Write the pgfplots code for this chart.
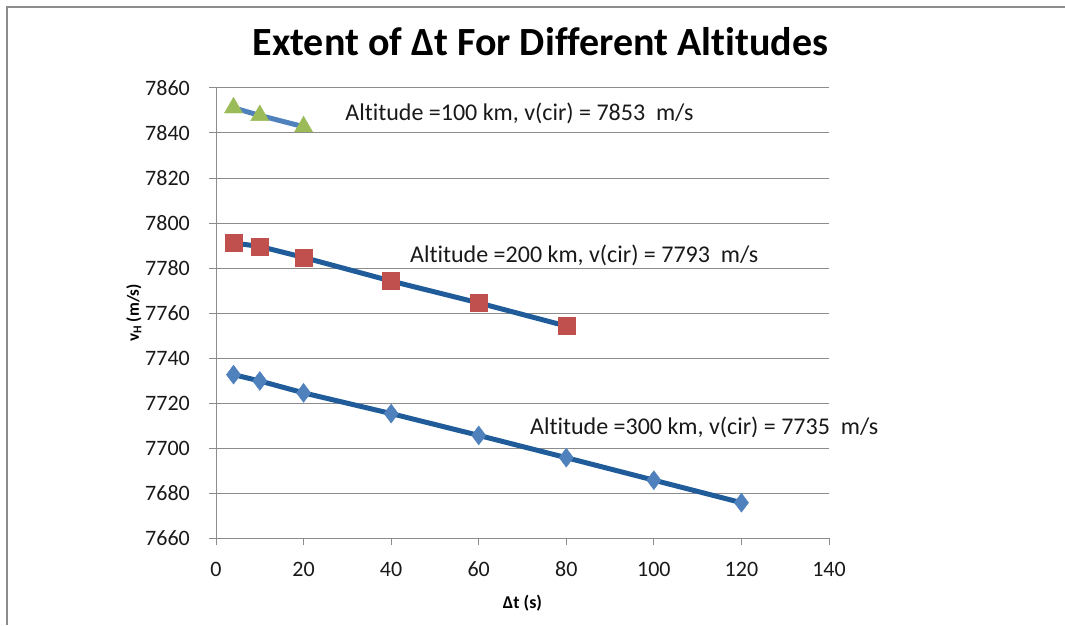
\documentclass[border=0pt]{standalone}
\usepackage{fontspec}
\setmainfont{Carlito}[Ligatures=NoCommon]
\usepackage{pgfplots}
\pgfplotsset{compat=1.18}
\definecolor{darkline}{HTML}{1F5C99}
\definecolor{lightline}{HTML}{4F81BD}
\definecolor{tri}{HTML}{9BBB59}
\definecolor{sq}{HTML}{C0504D}
\definecolor{dia}{HTML}{4F81BD}
\definecolor{gridc}{HTML}{8C8C8C}
\begin{document}
\begin{tikzpicture}[x=1pt,y=1pt]
\path[use as bounding box] (0,0) rectangle (1065,625);
\draw[gridc, line width=1.2pt] (7,0) -- (7,618) -- (1065,618);
\begin{axis}[
  at={(216pt,87pt)}, anchor=south west,
  scale only axis, width=613pt, height=450pt,
  xmin=0, xmax=140, ymin=7660, ymax=7860,
  xtick={0,20,...,140}, ytick={7660,7680,...,7860},
  axis x line*=bottom, axis y line*=left,
  axis line style={draw=gridc, line width=1pt},
  ymajorgrids, grid style={draw=gridc, line width=1pt},
  tick style={draw=gridc, line width=1pt}, tick align=outside, major tick length=7pt,
  tick label style={font=\fontsize{22}{24}\selectfont, text=black!90},
  /pgf/number format/assume math mode=true, /pgf/number format/1000 sep={},
  xticklabel style={anchor=base, yshift=-31pt},
  yticklabel style={anchor=east, inner sep=0pt, xshift=-19pt},
  title={Extent of Δt For Different Altitudes},
  title style={font=\fontsize{40}{44}\selectfont\bfseries, at={(0.5,1)}, anchor=base, yshift=26pt, xshift=18pt},
  xlabel={Δt (s)},
  xlabel style={font=\fontsize{18}{20}\selectfont\bfseries, at={(axis description cs:0.5,0)}, anchor=center, yshift=-65pt},
  ylabel={v\textsubscript{H} (m/s)},
  ylabel style={font=\fontsize{17}{20}\selectfont\bfseries, at={(axis description cs:-0.134,0.5)}, anchor=center},
  clip=false,
]
\addplot[color=darkline, line width=5pt, mark=diamond*, mark size=9.5pt,
  mark options={solid, line width=0.4pt, draw=dia, fill=dia}]
  coordinates {(4,7732.6) (10,7729.8) (20,7724.5) (40,7715.3) (60,7705.6) (80,7695.7) (100,7685.7) (120,7675.7)};
\addplot[color=darkline, line width=5pt, mark=square*, mark size=8.5pt,
  mark options={solid, line width=0.4pt, draw=sq, fill=sq}]
  coordinates {(4,7791.1) (10,7789.6) (20,7784.7) (40,7774.2) (60,7764.5) (80,7754.2)};
\addplot[color=lightline, line width=5pt, mark=triangle*, mark size=10.5pt,
  mark options={solid, line width=0.4pt, draw=tri, fill=tri}]
  coordinates {(4,7851.2) (10,7847.8) (20,7842.8)};
\node[anchor=west, inner sep=0pt, font=\fontsize{24}{28}\selectfont, text=black!90] at (axis cs:29.5,7848.9) {Altitude =100 km, v(cir) = 7853\ \ m/s};
\node[anchor=west, inner sep=0pt, font=\fontsize{24}{28}\selectfont, text=black!90] at (axis cs:44.3,7785.8) {Altitude =200 km, v(cir) = 7793\ \ m/s};
\node[anchor=west, inner sep=0pt, font=\fontsize{24}{28}\selectfont, text=black!90] at (axis cs:71.7,7709.3) {Altitude =300 km, v(cir) = 7735\ \ m/s};
\end{axis}
\end{tikzpicture}
\end{document}
